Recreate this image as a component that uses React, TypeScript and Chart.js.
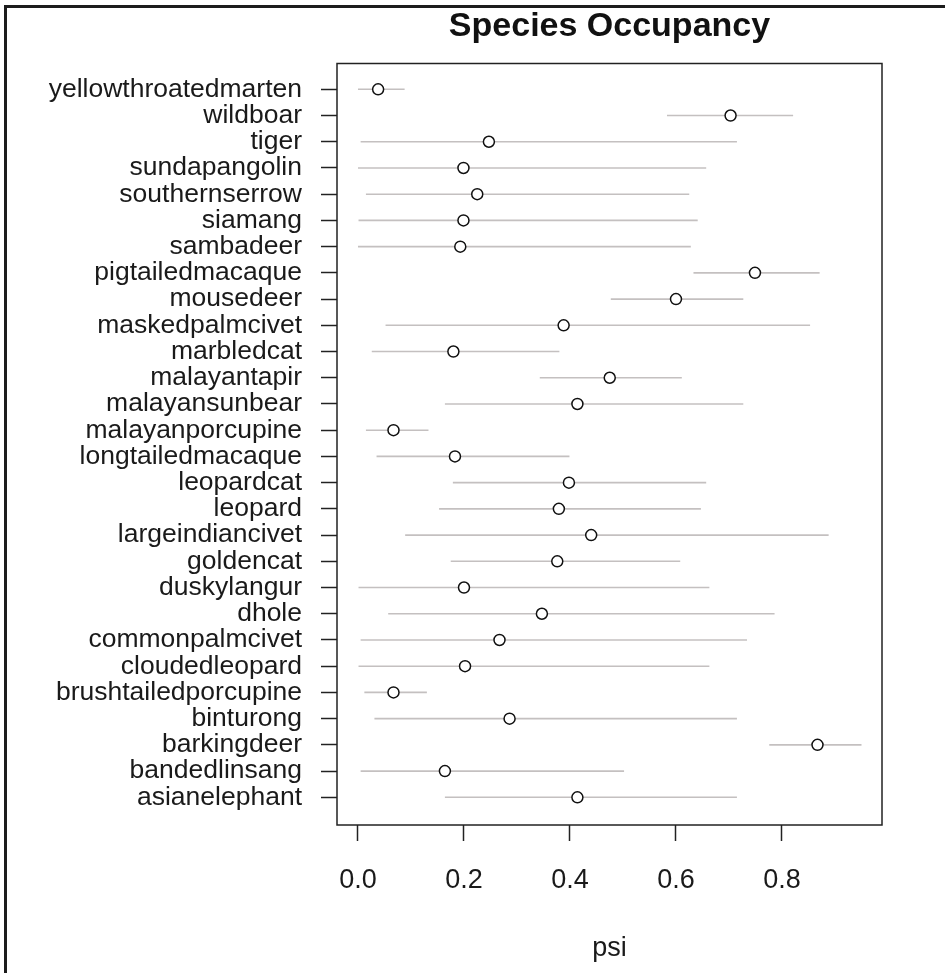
import React, { useEffect, useRef } from "react";
import { Chart, registerables } from "chart.js";

Chart.register(...registerables);

// Species listed top to bottom, as in the reference
const species = [
  "yellowthroatedmarten", "wildboar", "tiger", "sundapangolin", "southernserrow",
  "siamang", "sambadeer", "pigtailedmacaque", "mousedeer", "maskedpalmcivet",
  "marbledcat", "malayantapir", "malayansunbear", "malayanporcupine", "longtailedmacaque",
  "leopardcat", "leopard", "largeindiancivet", "goldencat", "duskylangur",
  "dhole", "commonpalmcivet", "cloudedleopard", "brushtailedporcupine", "binturong",
  "barkingdeer", "bandedlinsang", "asianelephant",
];
const psi = [
  0.038, 0.703, 0.247, 0.199, 0.225, 0.199, 0.193, 0.749, 0.600, 0.388,
  0.180, 0.475, 0.414, 0.067, 0.183, 0.398, 0.379, 0.440, 0.376, 0.200,
  0.347, 0.267, 0.202, 0.067, 0.286, 0.867, 0.164, 0.414,
];
const lower = [
  0.000, 0.583, 0.005, 0.000, 0.015, 0.001, 0.000, 0.633, 0.477, 0.052,
  0.026, 0.343, 0.164, 0.015, 0.035, 0.179, 0.153, 0.089, 0.175, 0.001,
  0.057, 0.005, 0.001, 0.012, 0.031, 0.776, 0.005, 0.164,
];
const upper = [
  0.088, 0.821, 0.715, 0.657, 0.625, 0.641, 0.628, 0.871, 0.727, 0.853,
  0.380, 0.611, 0.727, 0.133, 0.399, 0.657, 0.647, 0.888, 0.608, 0.663,
  0.786, 0.734, 0.663, 0.130, 0.715, 0.950, 0.502, 0.715,
];
const xTicks = [0, 0.2, 0.4, 0.6, 0.8];

const FONT = '"Liberation Sans", Arial, Helvetica, sans-serif';
const INK = "#1a1a1a";

export default function App() {
  const ref = useRef<HTMLCanvasElement | null>(null);

  useEffect(() => {
    const canvas = ref.current;
    if (!canvas) return;
    const n = species.length;
    const rowPos = species.map((_, i) => n - i);

    const intervalSets = species.map((s, i) => ({
      type: "line" as const,
      label: s + " interval",
      data: [
        { x: lower[i], y: rowPos[i] },
        { x: upper[i], y: rowPos[i] },
      ],
      borderColor: "#c4c0c0",
      borderWidth: 1.6,
      pointRadius: 0,
      showLine: true,
      fill: false,
      order: 2,
    }));

    const boxPlugin = {
      id: "box",
      afterDatasetsDraw(chart: any) {
        const { ctx, chartArea } = chart;
        ctx.save();
        ctx.strokeStyle = "#222";
        ctx.lineWidth = 1.5;
        ctx.strokeRect(chartArea.left, chartArea.top, chartArea.right - chartArea.left, chartArea.bottom - chartArea.top);
        ctx.restore();
      },
    };

    const chart = new Chart(canvas, {
      type: "scatter",
      data: {
        datasets: [
          {
            type: "scatter",
            label: "psi",
            data: species.map((_, i) => ({ x: psi[i], y: rowPos[i] })),
            pointRadius: 5.5,
            pointBorderWidth: 1.5,
            pointBorderColor: "#111",
            pointBackgroundColor: "#ffffff",
            order: 0,
          } as any,
          ...(intervalSets as any[]),
        ],
      },
      plugins: [boxPlugin],
      options: {
        responsive: false,
        animation: false,
        devicePixelRatio: 1,
        layout: { padding: { left: 0, top: 0, right: 63, bottom: 0 } },
        plugins: {
          legend: { display: false },
          tooltip: { enabled: false },
          title: {
            display: true,
            text: "Species Occupancy",
            fullSize: false,
            color: "#111",
            font: { family: FONT, size: 34, weight: "bold" },
            padding: { top: 6, bottom: 16.7 },
          },
        },
        scales: {
          x: {
            type: "linear",
            min: -0.0396,
            max: 0.9887,
            afterBuildTicks: (scale: any) => {
              scale.ticks = xTicks.map((v) => ({ value: v }));
            },
            afterFit: (scale: any) => {
              scale.height = 148;
            },
            ticks: {
              autoSkip: false,
              maxRotation: 0,
              padding: 23,
              color: INK,
              font: { family: FONT, size: 27 },
              callback: (v: any) => Number(v).toFixed(1),
            },
            grid: {
              drawOnChartArea: false,
              drawTicks: true,
              tickLength: 16,
              tickColor: "#222",
              tickWidth: 1.5,
            },
            border: { display: false },
            title: {
              display: true,
              text: "psi",
              color: INK,
              font: { family: FONT, size: 27 },
              padding: { top: 0, bottom: 8 },
            },
          },
          y: {
            type: "linear",
            min: -0.056,
            max: 28.984,
            afterBuildTicks: (scale: any) => {
              scale.ticks = rowPos.map((v) => ({ value: v })).reverse();
            },
            afterFit: (scale: any) => {
              scale.width = 337;
            },
            ticks: {
              autoSkip: false,
              padding: 19,
              color: INK,
              font: { family: FONT, size: 26.5 },
              callback: (v: any) => species[n - Number(v)] ?? "",
            },
            grid: {
              drawOnChartArea: false,
              drawTicks: true,
              tickLength: 16,
              tickColor: "#222",
              tickWidth: 1.5,
            },
            border: { display: false },
          },
        },
      } as any,
    });

    return () => {
      chart.destroy();
    };
  }, []);

  return (
    <div style={{ position: "absolute", left: 0, top: 0, width: 945, height: 973, background: "#fff", overflow: "hidden" }}>
      <canvas ref={ref} width={945} height={973} style={{ position: "absolute", left: 0, top: 0, width: 945, height: 973 }} />
      <div
        style={{
          position: "absolute",
          left: 4,
          top: 5,
          width: 945,
          height: 973,
          borderLeft: "3px solid #1c1c1c",
          borderTop: "3px solid #1c1c1c",
          pointerEvents: "none",
        }}
      />
    </div>
  );
}
